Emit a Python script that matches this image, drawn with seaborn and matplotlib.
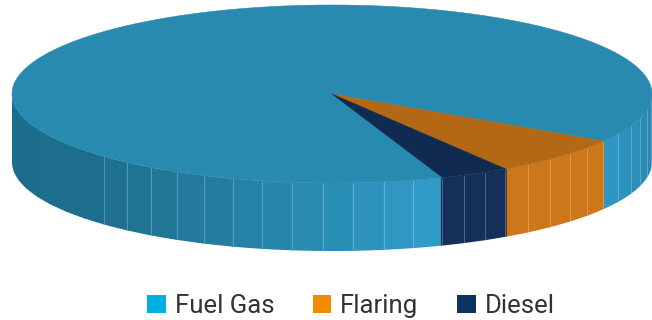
import numpy as np
import pandas as pd
import seaborn as sns
import matplotlib.pyplot as plt
from matplotlib.patches import Patch

# data
labels = ["Fuel Gas", "Flaring", "Diesel"]
shares = [89.5, 7.0, 3.5]
legend_colors = ["#00B0E4", "#F58A00", "#0A3360"]
top_colors = ["#288AAE", "#B26814", "#112A50"]
side_colors = [None, "#CD761A", "#142F58"]

df = pd.DataFrame({"label": labels, "share": shares})

sns.set_theme(style="white")
plt.rcParams['font.family'] = ['Roboto', 'DejaVu Sans']

# pie geometry in pixel space
cx, cy = 332, 94
ra, rb = 320, 89
depth = 68
start = -69.8   # degrees, slices run clockwise

# shading of the fuel gas wall along the angle
shade_ang = [180, 222, 245, 270, 290, 330, 360]
shade_rgb = np.array([[28, 108, 138], [29, 110, 141], [34, 122, 156],
                      [42, 142, 182], [50, 157, 202], [46, 150, 195],
                      [38, 132, 170]]) / 255.0


def fuel_side(t):
    return tuple(np.interp(t, shade_ang, shade_rgb[:, k]) for k in range(3))


def rim(t):
    r = np.radians(t)
    return cx + ra * np.cos(r), cy - rb * np.sin(r)


fig = plt.figure(figsize=(6.52, 3.2), dpi=100)
ax = fig.add_axes([0, 0, 1, 1])
ax.set_xlim(0, 652)
ax.set_ylim(320, 0)
ax.axis("off")

total = df["share"].sum()
spans = df["share"] / total * 360
bounds = start - np.concatenate([[0], np.cumsum(spans)])

# side walls
for i, row in df.iterrows():
    hi, lo = bounds[i], bounds[i + 1]
    n = max(2, int(np.ceil((hi - lo) / 5.5)))
    edges = np.linspace(lo, hi, n + 1)
    for s0, s1 in zip(edges[:-1], edges[1:]):
        a0 = s0 % 360
        a1 = a0 + (s1 - s0)
        a0c, a1c = max(a0, 180), min(a1, 360)
        if a0c >= a1c:
            continue
        # overlap neighbours a little so no seams show
        tt = np.linspace(a0c - 0.3 if a0c > 180 else a0c,
                         a1c + 0.3 if a1c < 360 else a1c, 12)
        xs, ys = rim(tt)
        px = np.concatenate([xs, xs[::-1]])
        py = np.concatenate([ys, ys[::-1] + depth])
        col = fuel_side((a0c + a1c) / 2) if i == 0 else side_colors[i]
        ax.fill(px, py, color=col, lw=0, zorder=1)
        if a0c > 222:
            x0, y0 = rim(a0c)
            ax.plot([x0, x0], [y0, y0 + depth], color="white", alpha=0.25,
                    lw=0.7, zorder=2)

# top faces
for i, row in df.iterrows():
    tt = np.linspace(bounds[i], bounds[i + 1], 400)
    xs, ys = rim(tt)
    ax.fill(np.concatenate([[cx], xs]), np.concatenate([[cy], ys]),
            color=top_colors[i], ec=top_colors[i], lw=0.4, zorder=3)

handles = [Patch(facecolor=c, edgecolor="none") for c in legend_colors]
fig.legend(handles, labels, loc="lower center", bbox_to_anchor=(0.538, -0.065),
           ncol=3, frameon=False, fontsize=18.5, labelcolor="#333333",
           handlelength=0.72, handleheight=0.72, handletextpad=0.35,
           columnspacing=1.5)

fig.savefig("out.png", dpi=100)
